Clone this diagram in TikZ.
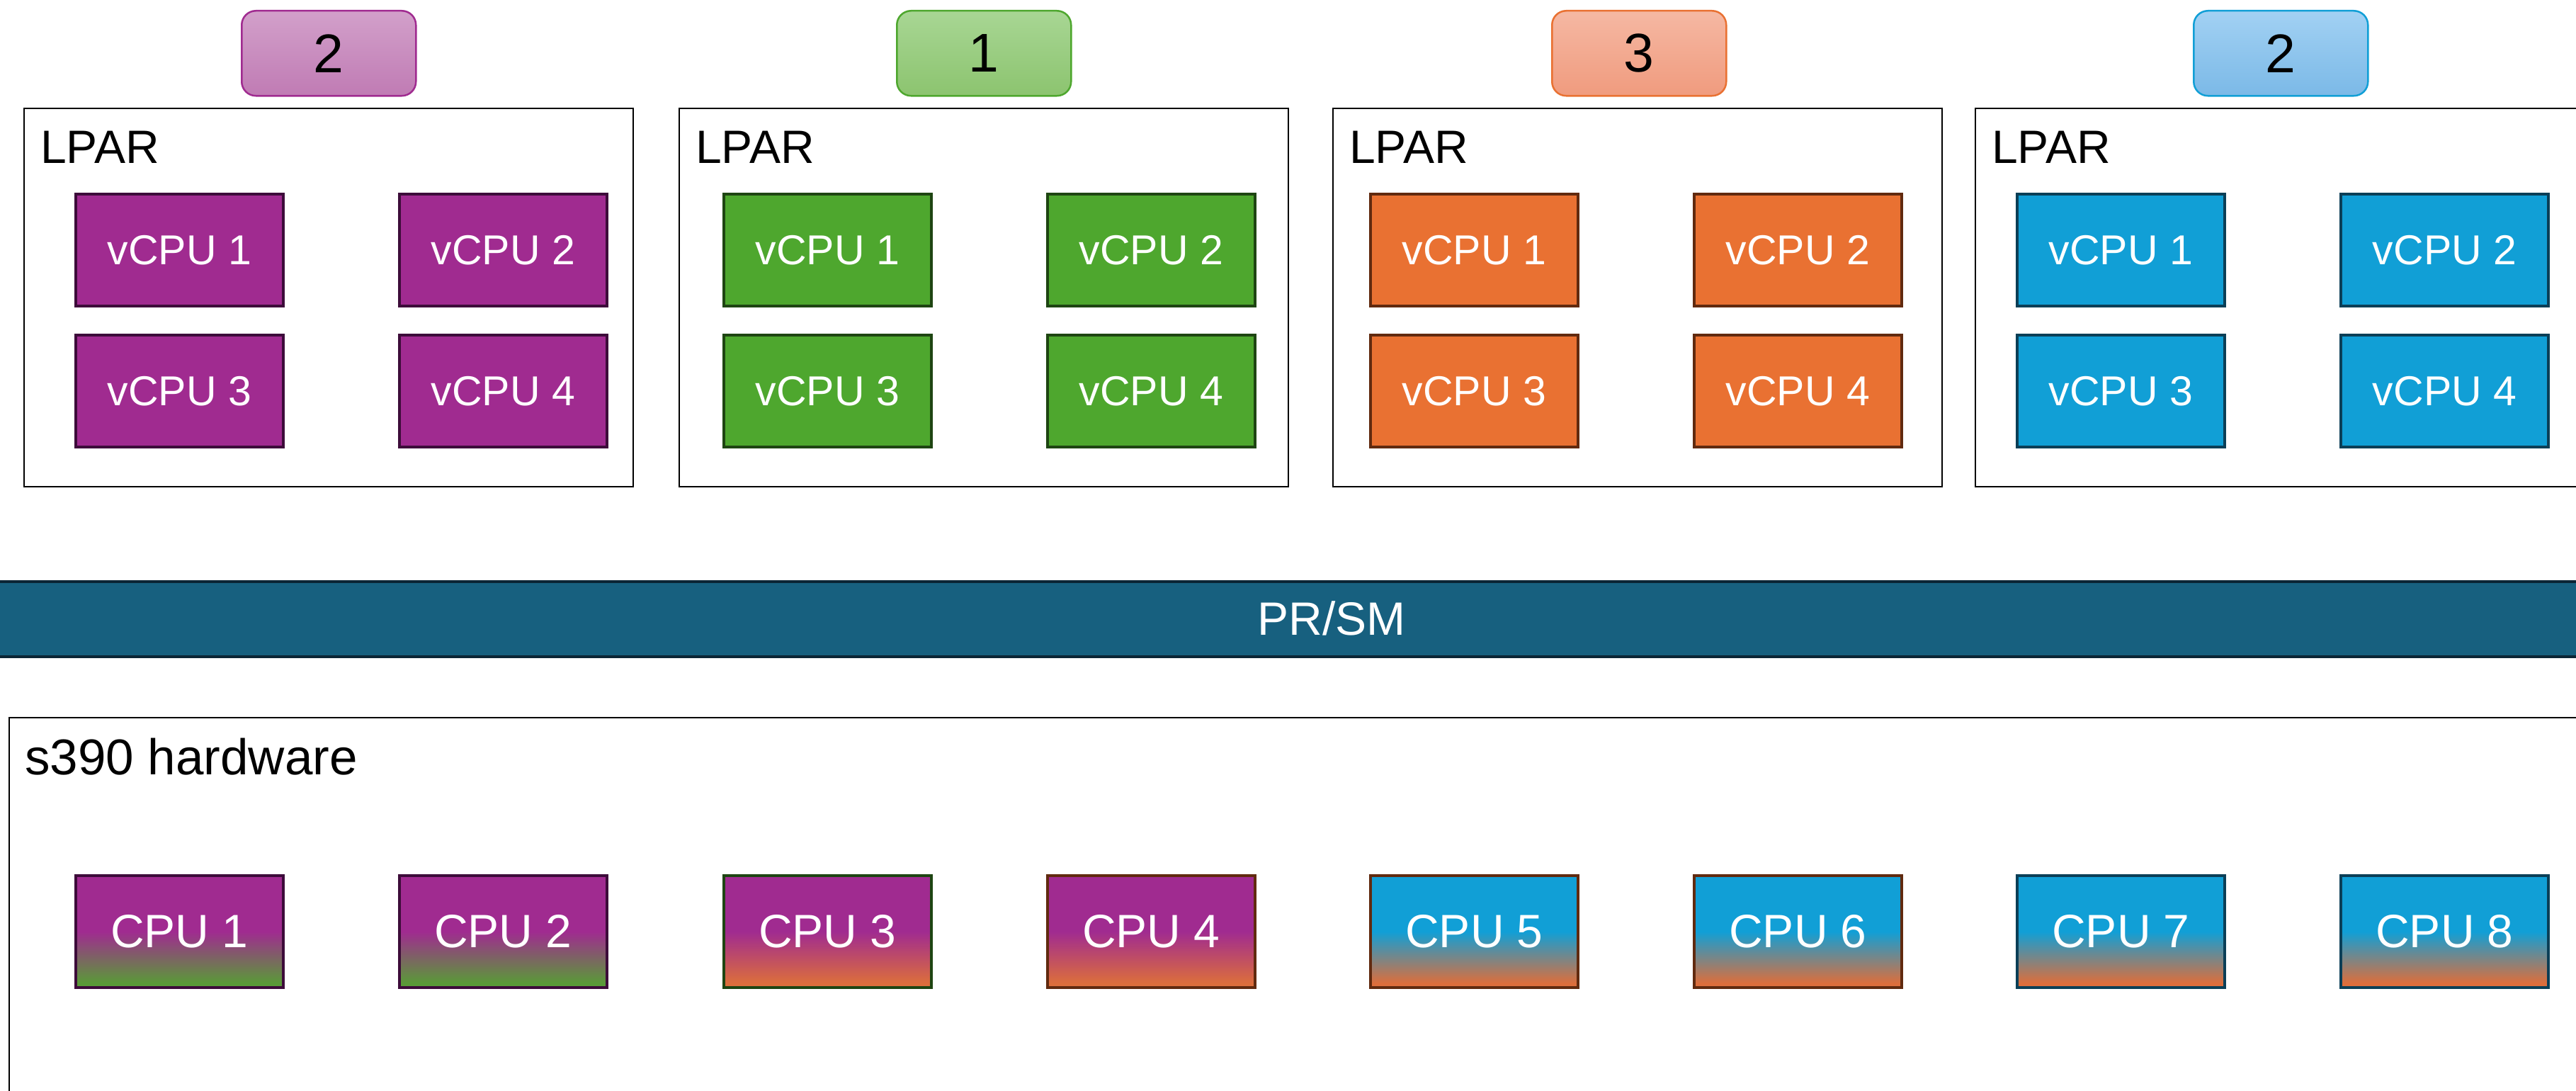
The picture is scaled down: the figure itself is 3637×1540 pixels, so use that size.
\documentclass[tikz,border=0pt]{standalone}
\usepackage{fontspec}
\setmainfont{Liberation Sans}

% partition colours
\definecolor{vpurple}{HTML}{A02B90}
\definecolor{vpurpleD}{HTML}{3D0C3A}
\definecolor{vgreen}{HTML}{4EA72E}
\definecolor{vgreenD}{HTML}{1E4512}
\definecolor{vorange}{HTML}{E97132}
\definecolor{vorangeD}{HTML}{612A0F}
\definecolor{vblue}{HTML}{119FD6}
\definecolor{vblueD}{HTML}{0B3F57}
\definecolor{cgreen}{HTML}{5A9A38}
\definecolor{corange}{HTML}{DC6E3C}
\definecolor{prsmfill}{HTML}{17607F}
\definecolor{prsmline}{HTML}{0B2535}
% badge tints
\definecolor{bpurpleT}{HTML}{D2A0CA}
\definecolor{bpurpleB}{HTML}{C07BB4}
\definecolor{bgreenT}{HTML}{A8D694}
\definecolor{bgreenB}{HTML}{8CC46F}
\definecolor{borangeT}{HTML}{F5B8A3}
\definecolor{borangeB}{HTML}{F09B7E}
\definecolor{bblueT}{HTML}{A2D1F3}
\definecolor{bblueB}{HTML}{7BB9E7}

% physical CPUs: owner colour on top, fading into the sharing partition below
\pgfdeclareverticalshading{purplegreen}{100bp}{color(0bp)=(cgreen); color(27bp)=(cgreen); color(50bp)=(vpurple); color(100bp)=(vpurple)}
\pgfdeclareverticalshading{purpleorange}{100bp}{color(0bp)=(corange); color(27bp)=(corange); color(50bp)=(vpurple); color(100bp)=(vpurple)}
\pgfdeclareverticalshading{blueorange}{100bp}{color(0bp)=(corange); color(27bp)=(corange); color(50bp)=(vblue); color(100bp)=(vblue)}

\tikzset{
  txt/.style={font=\fontsize{66bp}{70bp}\selectfont},
  frame/.style={draw=black, line width=2bp, fill=white, anchor=north west, inner sep=0pt,
                minimum width=860bp, minimum height=534bp},
  unit/.style={draw=#1, line width=4bp, anchor=north west, inner sep=0pt,
               minimum width=293bp, minimum height=158bp, text=white, txt},
  vunit/.style={unit=#1, font=\fontsize{59bp}{64bp}\selectfont},
  badge/.style n args={3}{draw=#1, line width=2.5bp, rounded corners=20bp, top color=#2, bottom color=#3,
               anchor=north west, inner sep=0pt, minimum width=246bp, minimum height=120bp,
               font=\fontsize{77bp}{80bp}\selectfont},
}

\begin{document}
\begin{tikzpicture}[x=1bp, y=-1bp]
  \useasboundingbox (0,0) rectangle (3637,1540);
  \clip (0,0) rectangle (3637,1540);

  % priority badges
  \node[badge={vpurple}{bpurpleT}{bpurpleB}] (b1) at (340,14) {2};
  \node[badge={vgreen}{bgreenT}{bgreenB}] (b2) at (1265,14) {1};
  \node[badge={vorange}{borangeT}{borangeB}] (b3) at (2190,14) {3};
  \node[badge={vblue}{bblueT}{bblueB}] (b4) at (3096,14) {2};

  % logical partitions
  \foreach \k/\x in {1/33, 2/958, 3/1881, 4/2788} {
    \node[frame] (lpar\k) at (\x,152) {};
    \node[txt, anchor=base west, inner sep=0pt] (lparlabel\k) at (\x+24,230) {LPAR};
  }

  % virtual CPUs
  \foreach \k/\xa/\xb/\col/\dark in {1/105/562/vpurple/vpurpleD, 2/1020/1477/vgreen/vgreenD,
                                      3/1933/2390/vorange/vorangeD, 4/2846/3303/vblue/vblueD} {
    \node[vunit=\dark, fill=\col] (v\k-1) at (\xa,272) {vCPU 1};
    \node[vunit=\dark, fill=\col] (v\k-2) at (\xb,272) {vCPU 2};
    \node[vunit=\dark, fill=\col] (v\k-3) at (\xa,471) {vCPU 3};
    \node[vunit=\dark, fill=\col] (v\k-4) at (\xb,471) {vCPU 4};
  }

  % hypervisor layer
  \node[draw=prsmline, fill=prsmfill, line width=4bp, anchor=north west, inner sep=0pt,
        minimum width=3800bp, minimum height=106bp] (prsm) at (-40,819) {};
  \node[txt, text=white] (prsmlabel) at (1880,873) {PR/SM};

  % physical machine
  \node[draw=black, line width=2bp, anchor=north west, inner sep=0pt,
        minimum width=3800bp, minimum height=700bp] (hw) at (12,1012) {};
  \node[anchor=base west, inner sep=0pt, font=\fontsize{71bp}{75bp}\selectfont]
       (hwlabel) at (35,1093) {s390 hardware};

  \foreach \i/\x/\sh/\dark in {1/105/purplegreen/vpurpleD, 2/562/purplegreen/vpurpleD,
                                3/1020/purpleorange/vgreenD, 4/1477/purpleorange/vorangeD,
                                5/1933/blueorange/vorangeD, 6/2390/blueorange/vorangeD,
                                7/2846/blueorange/vblueD, 8/3303/blueorange/vblueD} {
    \node[unit=\dark, shading=\sh] (cpu\i) at (\x,1234) {CPU \i};
  }
\end{tikzpicture}
\end{document}
